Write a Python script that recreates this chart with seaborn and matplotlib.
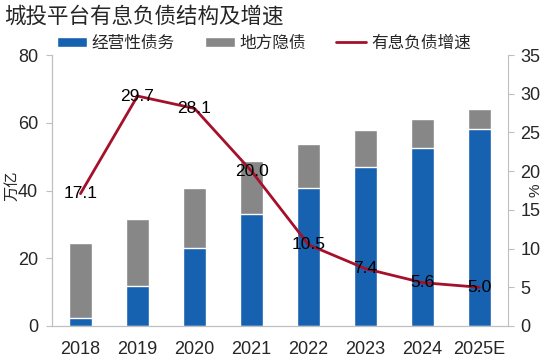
import numpy as np
import pandas as pd
import matplotlib
matplotlib.use('Agg')
import matplotlib.pyplot as plt
import seaborn as sns
from matplotlib.patches import Patch
from matplotlib.lines import Line2D

# データ
years = ['2018', '2019', '2020', '2021', '2022', '2023', '2024', '2025E']
debt_operating = [2.4, 11.8, 23.0, 33.2, 40.7, 46.8, 52.6, 58.1]  # 经营性债务
debt_hidden = [22.0, 19.8, 17.6, 15.5, 13.1, 11.0, 8.5, 6.1]  # 地方隐债
growth = [17.1, 29.7, 28.1, 20.0, 10.5, 7.4, 5.6, 5.0]  # 有息负债增速

sns.set_style('white')
plt.rcParams['font.family'] = ['Liberation Sans', 'Noto Sans CJK SC', 'DejaVu Sans']

df = pd.DataFrame({'year': years, 'op': debt_operating, 'hid': debt_hidden, 'growth': growth})
df['total'] = df['op'] + df['hid']
df['pos'] = np.arange(len(df))

c_blue = '#1762B0'
c_gray = '#878787'
c_red = '#A5102A'
c_axis = '#BFBFBF'

fig = plt.figure(figsize=(5.5, 3.57), dpi=100)
ax1 = fig.add_axes([52 / 550, 1 - 326 / 357, (508 - 52) / 550, (326 - 55) / 357])
ax2 = ax1.twinx()

# 積み上げ棒
sns.barplot(data=df, x='year', y='total', color=c_gray, width=0.42, saturation=1, ax=ax1)
sns.barplot(data=df, x='year', y='op', color=c_blue, width=0.42, saturation=1, ax=ax1)

# 折れ線
sns.lineplot(data=df, x='pos', y='growth', color=c_red, linewidth=2, ax=ax2)
for p, v in zip(df['pos'], df['growth']):
    ax2.text(p, v, '{:.1f}'.format(v), ha='center', va='center', fontsize=12.5, color='black')

ax1.set_xlim(-0.5, len(years) - 0.5)
ax1.set_ylim(0, 80)
ax1.set_yticks([0, 20, 40, 60, 80])
ax2.set_ylim(0, 35)
ax2.set_yticks(range(0, 36, 5))

ax1.set_xlabel('')
ax1.set_ylabel('')
ax2.set_xlabel('')
ax2.set_ylabel('')
# 軸ラベルは目盛りラベルのすぐ横に置く
fig.text(12 / 550, 1 - 186 / 357, '万亿', fontsize=11, rotation=90, ha='center', va='center')
fig.text(535 / 550, 1 - 190 / 357, '%', fontsize=11, rotation=90, ha='center', va='center')

# x 目盛りはカテゴリの境界に
ax1.set_xticks(np.arange(len(years)))
ax1.set_xticklabels(years)
ax1.set_xticks(np.arange(-0.5, len(years), 1), minor=True)
ax1.tick_params(axis='x', which='major', length=0, labelsize=13, pad=11)
ax1.tick_params(axis='x', which='minor', length=4, color=c_axis, direction='out')
ax1.tick_params(axis='y', labelsize=13, length=4, color=c_axis, direction='out', left=True, pad=6)
ax2.tick_params(axis='y', labelsize=13, length=4, color=c_axis, direction='out', right=True, pad=5)

for ax in (ax1, ax2):
    ax.spines['top'].set_visible(False)
    for s in ['left', 'right', 'bottom']:
        ax.spines[s].set_color(c_axis)
ax1.spines['right'].set_visible(False)

# タイトル
fig.text(0.008, 0.952, '城投平台有息负债结构及增速', fontsize=15.5, ha='left', va='center',
         family=['Noto Sans CJK SC'])

# 凡例
handles = [Patch(facecolor=c_blue, label='经营性债务'),
           Patch(facecolor=c_gray, label='地方隐债'),
           Line2D([0], [0], color=c_red, linewidth=2, label='有息负债增速')]
fig.legend(handles=handles, loc='center', bbox_to_anchor=(0.48, 0.88), ncol=3, frameon=False,
           fontsize=12, handlelength=1.8, handleheight=0.55, columnspacing=1.8, handletextpad=0.3)

plt.savefig('out.png', dpi=100)
